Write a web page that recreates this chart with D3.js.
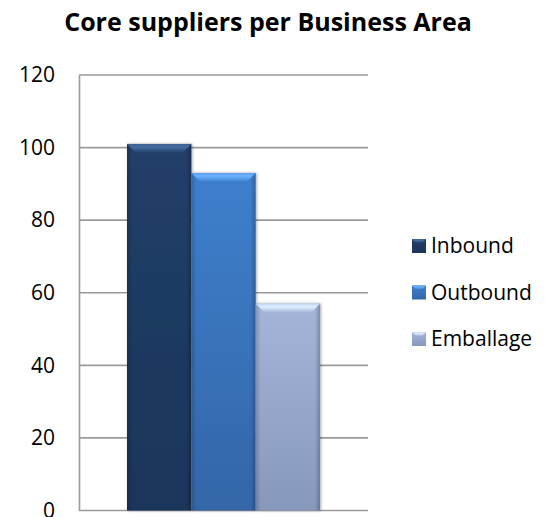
<!DOCTYPE html>
<html>
<head>
<meta charset="utf-8">
<script src="https://cdnjs.cloudflare.com/ajax/libs/d3/7.8.5/d3.min.js"></script>
<style>
  html, body { margin: 0; padding: 0; background: #fff; }
  svg { display: block; }
</style>
</head>
<body>
<div id="chart"></div>
<script>
// Core suppliers counted per business area
const categories = ["Inbound", "Outbound", "Emballage"];
const values = [101, 93, 57];
const tickValues = [0, 20, 40, 60, 80, 100, 120];

// Bar palette: [light top, base, dark bottom]
const palette = {
  Inbound:   ["#3d5f8f", "#213f68", "#1c355a"],
  Outbound:  ["#5d9ee8", "#3d7fcc", "#3466a8"],
  Emballage: ["#c3d2f0", "#a4b5d9", "#8798bd"]
};

const W = 550, H = 517;
const FONT = "'Open Sans', 'DejaVu Sans', sans-serif";
const svg = d3.select("#chart").append("svg").attr("width", W).attr("height", H);
const defs = svg.append("defs");

const plot = { left: 79, right: 368, top: 75, bottom: 510.5 };

const y = d3.scaleLinear().domain([0, 120]).range([plot.bottom, plot.top]);
// one group of three touching bars, gap width 150% split on both sides
const x = d3.scaleBand().domain(categories)
  .range([plot.left + 48, plot.right - 48]).padding(0);

// Title
svg.append("text")
  .attr("x", 268).attr("y", 31)
  .attr("text-anchor", "middle")
  .attr("font-family", FONT)
  .attr("font-weight", "bold")
  .attr("font-size", 25)
  .attr("fill", "#000")
  .text("Core suppliers per Business Area");

// Gridlines
svg.append("g")
  .selectAll("line")
  .data(tickValues)
  .join("line")
  .attr("x1", plot.left).attr("x2", plot.right)
  .attr("y1", d => y(d)).attr("y2", d => y(d))
  .attr("stroke", "#9a9a9a").attr("stroke-width", 1.6);

// Value axis
const yAxis = d3.axisLeft(y).tickValues(tickValues).tickSize(0).tickPadding(24);
const gAxis = svg.append("g").attr("transform", `translate(${plot.left},0)`).call(yAxis);
gAxis.select(".domain").attr("stroke", "#9a9a9a").attr("stroke-width", 1.6);
gAxis.selectAll("text")
  .attr("font-family", FONT)
  .attr("font-size", 21)
  .attr("fill", "#000");

// Gradients per series
categories.forEach((c, i) => {
  const [light, base, dark] = palette[c];
  const g = defs.append("linearGradient").attr("id", "body" + i)
    .attr("x1", 0).attr("y1", 0).attr("x2", 0).attr("y2", 1);
  g.append("stop").attr("offset", 0).attr("stop-color", base);
  g.append("stop").attr("offset", 1).attr("stop-color", dark);
  const s = defs.append("linearGradient").attr("id", "side" + i)
    .attr("x1", 0).attr("y1", 0).attr("x2", 1).attr("y2", 0);
  s.append("stop").attr("offset", 0).attr("stop-color", "#000").attr("stop-opacity", 0.18);
  s.append("stop").attr("offset", 0.08).attr("stop-color", "#000").attr("stop-opacity", 0);
  s.append("stop").attr("offset", 0.92).attr("stop-color", "#000").attr("stop-opacity", 0);
  s.append("stop").attr("offset", 1).attr("stop-color", "#000").attr("stop-opacity", 0.22);
  const t = defs.append("linearGradient").attr("id", "top" + i)
    .attr("x1", 0).attr("y1", 0).attr("x2", 0).attr("y2", 1);
  t.append("stop").attr("offset", 0).attr("stop-color", light);
  t.append("stop").attr("offset", 0.35).attr("stop-color", d3.color(light).brighter(0.35));
  t.append("stop").attr("offset", 1).attr("stop-color", base);
});

const shadow = defs.append("filter").attr("id", "shadow")
  .attr("x", "-20%").attr("y", "-10%").attr("width", "140%").attr("height", "120%");
shadow.append("feGaussianBlur").attr("in", "SourceAlpha").attr("stdDeviation", 1.5);
shadow.append("feOffset").attr("dx", 1).attr("dy", 0).attr("result", "b");
shadow.append("feComponentTransfer").append("feFuncA").attr("type", "linear").attr("slope", 0.35);
const merge = shadow.append("feMerge");
merge.append("feMergeNode");
merge.append("feMergeNode").attr("in", "SourceGraphic");

// Bars
const bars = svg.append("g").selectAll("g")
  .data(categories.map((c, i) => ({ c, v: values[i], i })))
  .join("g");

bars.append("rect")
  .attr("x", d => x(d.c)).attr("width", x.bandwidth())
  .attr("y", d => y(d.v)).attr("height", d => y(0) - y(d.v))
  .attr("fill", d => `url(#body${d.i})`)
  .attr("filter", "url(#shadow)");

bars.append("rect")
  .attr("x", d => x(d.c)).attr("width", x.bandwidth())
  .attr("y", d => y(d.v)).attr("height", d => y(0) - y(d.v))
  .attr("fill", d => `url(#side${d.i})`);

// Bevelled top edge
const bevel = 9;
bars.append("path")
  .attr("d", d => {
    const x0 = x(d.c), x1 = x0 + x.bandwidth(), y0 = y(d.v);
    return `M${x0},${y0}L${x1},${y0}L${x1 - bevel},${y0 + bevel}L${x0 + bevel},${y0 + bevel}Z`;
  })
  .attr("fill", d => `url(#top${d.i})`);

// Legend
const legend = svg.append("g").selectAll("g")
  .data(categories.map((c, i) => ({ c, i })))
  .join("g")
  .attr("transform", d => `translate(412,${246 + d.i * 46.5})`);

legend.append("rect")
  .attr("x", 0).attr("y", -7).attr("width", 14).attr("height", 14)
  .attr("fill", d => `url(#body${d.i})`);
legend.append("path")
  .attr("d", "M0,-7L14,-7L10,-3L4,-3Z")
  .attr("fill", d => `url(#top${d.i})`);

legend.append("text")
  .attr("x", 19).attr("y", 0).attr("dy", "0.35em")
  .attr("font-family", FONT)
  .attr("font-size", 21)
  .attr("fill", "#000")
  .text(d => d.c);
</script>
</body>
</html>
